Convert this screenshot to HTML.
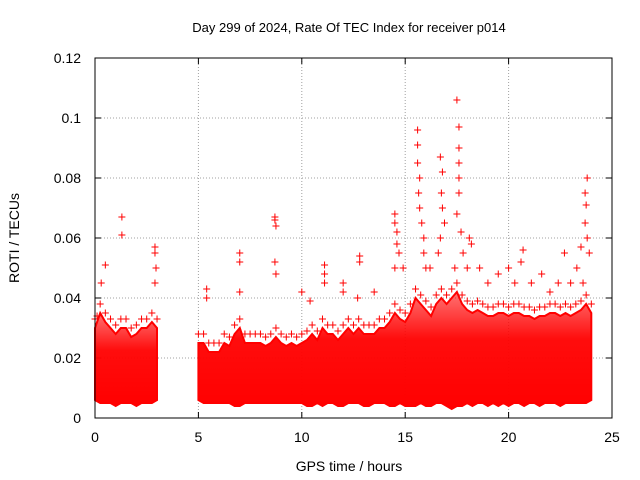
<!DOCTYPE html>
<html>
<head>
<meta charset="utf-8">
<style>
html,body{margin:0;padding:0;background:#fff;}
svg{display:block;font-family:"Liberation Sans",sans-serif;}
</style>
</head>
<body>
<svg id="chart" width="640" height="480">
  <defs>
    <linearGradient id="bandGrad" x1="0" y1="1" x2="0" y2="0">
      <stop offset="0" stop-color="#ff0000" stop-opacity="1"/>
      <stop offset="0.6" stop-color="#ff0000" stop-opacity="0.95"/>
      <stop offset="1" stop-color="#ff0000" stop-opacity="0.55"/>
    </linearGradient>
  </defs>
  <text x="349" y="32" text-anchor="middle" font-size="13">Day 299 of 2024, Rate Of TEC Index for receiver p014</text>
  <text x="0" y="0" transform="translate(19,238) rotate(-90)" text-anchor="middle" font-size="14">ROTI / TECUs</text>
  <text x="349" y="471" text-anchor="middle" font-size="14">GPS time / hours</text>
  <g id="grid"></g>
  <g id="ticks"></g>
  <g id="band"></g>
  <g id="points"></g>
  <rect x="95" y="58" width="517" height="360" fill="none" stroke="#000" stroke-width="1"/>
</svg>
<script>
const xTicks = [0,5,10,15,20,25];
const yTicks = [0,0.02,0.04,0.06,0.08,0.1,0.12];
const yTickLabels = ["0","0.02","0.04","0.06","0.08","0.1","0.12"];
const bandSeg1T = [0,0.25,0.5,0.75,1.0,1.25,1.5,1.75,2.0,2.25,2.5,2.75,3.0];
const bandSeg1Hi = [0.03,0.035,0.032,0.03,0.028,0.03,0.03,0.027,0.028,0.03,0.03,0.032,0.03];
const bandSeg1Lo = [0.006,0.005,0.005,0.005,0.004,0.005,0.005,0.005,0.004,0.005,0.005,0.005,0.006];
const bandSeg2T = [5,5.25,5.5,5.75,6,6.25,6.5,6.75,7,7.25,7.5,7.75,8,8.25,8.5,8.75,9,9.25,9.5,9.75,10,10.25,10.5,10.75,11,11.25,11.5,11.75,12,12.25,12.5,12.75,13,13.25,13.5,13.75,14,14.25,14.5,14.75,15,15.25,15.5,15.75,16,16.25,16.5,16.75,17,17.25,17.5,17.75,18,18.25,18.5,18.75,19,19.25,19.5,19.75,20,20.25,20.5,20.75,21,21.25,21.5,21.75,22,22.25,22.5,22.75,23,23.25,23.5,23.75,24];
const bandSeg2Hi = [0.025,0.025,0.022,0.022,0.022,0.025,0.024,0.028,0.03,0.025,0.025,0.025,0.025,0.024,0.025,0.027,0.025,0.024,0.025,0.024,0.025,0.026,0.028,0.026,0.03,0.028,0.028,0.026,0.028,0.03,0.028,0.03,0.028,0.028,0.028,0.03,0.03,0.032,0.035,0.033,0.032,0.035,0.04,0.038,0.036,0.034,0.038,0.04,0.038,0.04,0.042,0.038,0.036,0.035,0.036,0.035,0.034,0.034,0.035,0.035,0.034,0.035,0.035,0.034,0.034,0.033,0.034,0.034,0.035,0.035,0.034,0.035,0.034,0.035,0.036,0.038,0.035];
const bandSeg2Lo = [0.006,0.005,0.005,0.005,0.005,0.005,0.005,0.004,0.004,0.005,0.005,0.005,0.005,0.005,0.005,0.005,0.005,0.005,0.005,0.005,0.005,0.004,0.004,0.005,0.004,0.005,0.005,0.004,0.004,0.005,0.005,0.005,0.004,0.004,0.005,0.005,0.005,0.004,0.004,0.005,0.004,0.004,0.004,0.005,0.004,0.004,0.005,0.005,0.004,0.003,0.004,0.004,0.005,0.004,0.005,0.005,0.004,0.005,0.004,0.005,0.004,0.005,0.005,0.004,0.005,0.005,0.004,0.005,0.005,0.005,0.004,0.005,0.005,0.005,0.005,0.005,0.006];
const spikeT = [0.5,1.3,1.3,0.3,2.9,2.9,2.95,2.9,0.1,5.4,5.4,7.0,7.0,7.0,8.7,8.7,8.75,8.7,8.75,10.0,10.4,11.1,11.1,11.1,12.0,12.0,12.8,12.8,12.7,13.5,14.5,14.5,14.6,14.6,14.7,14.5,14.9,15.6,15.6,15.6,15.7,15.65,15.7,15.8,15.9,15.9,16.0,16.2,16.7,16.8,16.75,16.8,16.9,16.7,16.6,17.5,17.6,17.6,17.6,17.6,17.6,17.5,17.7,17.8,17.4,18.1,18.2,18.0,18.6,19.0,19.5,20.0,20.3,20.7,20.6,21.1,21.6,22.0,22.4,22.7,23.0,23.3,23.5,23.7,23.8,23.75,23.7,23.8,23.9,23.6];
const spikeV = [0.051,0.067,0.061,0.045,0.057,0.055,0.05,0.045,0.034,0.043,0.04,0.055,0.052,0.042,0.067,0.066,0.064,0.052,0.048,0.042,0.039,0.051,0.048,0.045,0.045,0.042,0.054,0.052,0.04,0.042,0.068,0.065,0.062,0.058,0.055,0.05,0.05,0.096,0.091,0.085,0.08,0.075,0.07,0.065,0.06,0.055,0.05,0.05,0.087,0.082,0.075,0.07,0.065,0.06,0.055,0.106,0.097,0.09,0.085,0.08,0.075,0.068,0.062,0.055,0.05,0.06,0.058,0.05,0.05,0.045,0.048,0.05,0.045,0.056,0.052,0.045,0.048,0.042,0.045,0.055,0.045,0.05,0.057,0.075,0.08,0.071,0.065,0.06,0.055,0.045];

const NS = "http://www.w3.org/2000/svg";
const X0 = 95, X1 = 612, Y0 = 418, Y1 = 58;
function xs(t){ return X0 + (t - 0) / 25 * (X1 - X0); }
function ys(v){ return Y0 - v / 0.12 * (Y0 - Y1); }
function mk(tag, attrs, parent){ const e = document.createElementNS(NS, tag); for (const k in attrs) e.setAttribute(k, attrs[k]); parent.appendChild(e); return e; }

const grid = document.getElementById('grid');
const ticks = document.getElementById('ticks');
xTicks.forEach((t, i) => {
  const x = xs(t);
  if (i > 0 && i < xTicks.length - 1) {
    const g = mk('line', {x1:x, y1:Y1, x2:x, y2:Y0, stroke:'#a0a0a0', 'stroke-dasharray':'1,2', 'stroke-width':1}, grid);
    
    
  }
  const tk = mk('path', {d:`M${x},${Y0}v-6M${x},${Y1}v6`, stroke:'#000', 'stroke-width':1}, ticks);
  
  
  const lb = mk('text', {x:x, y:Y0 + 24, 'text-anchor':'middle', 'font-size':14}, ticks);
  lb.textContent = String(t);
  
  
});
yTicks.forEach((v, i) => {
  const y = ys(v);
  if (i > 0 && i < yTicks.length - 1) {
    const g = mk('line', {x1:X0, y1:y, x2:X1, y2:y, stroke:'#a0a0a0', 'stroke-dasharray':'1,2', 'stroke-width':1}, grid);
    
    
  }
  const tk = mk('path', {d:`M${X0},${y}h6M${X1},${y}h-6`, stroke:'#000', 'stroke-width':1}, ticks);
  
  
  const lb = mk('text', {x:X0 - 14, y:y + 5, 'text-anchor':'end', 'font-size':14}, ticks);
  lb.textContent = yTickLabels[i];
  
  
});

const band = document.getElementById('band');
function drawBand(T, Hi, Lo){
  let d = '';
  T.forEach((t, i) => { d += (i ? 'L' : 'M') + xs(t).toFixed(1) + ',' + ys(Hi[i]).toFixed(1); });
  for (let i = T.length - 1; i >= 0; i--) d += 'L' + xs(T[i]).toFixed(1) + ',' + ys(Lo[i]).toFixed(1);
  d += 'Z';
  const p = mk('path', {d:d, fill:'url(#bandGrad)', stroke:'#ff0000', 'stroke-width':2}, band);
  
  
}
drawBand(bandSeg1T, bandSeg1Hi, bandSeg1Lo);
drawBand(bandSeg2T, bandSeg2Hi, bandSeg2Lo);

const pts = document.getElementById('points');
function plus(t, v, color){
  const x = xs(t), y = ys(v);
  const p = mk('path', {d:`M${x-3.5},${y}h7M${x},${y-3.5}v7`, stroke:color, 'stroke-width':1}, pts);
  
  
}
bandSeg1T.forEach((t, i) => plus(t, bandSeg1Hi[i] + 0.003, '#ff0000'));
bandSeg2T.forEach((t, i) => plus(t, bandSeg2Hi[i] + 0.003, '#ff0000'));
spikeT.forEach((t, i) => plus(t, spikeV[i], '#ff0000'));
</script>
</body>
</html>
